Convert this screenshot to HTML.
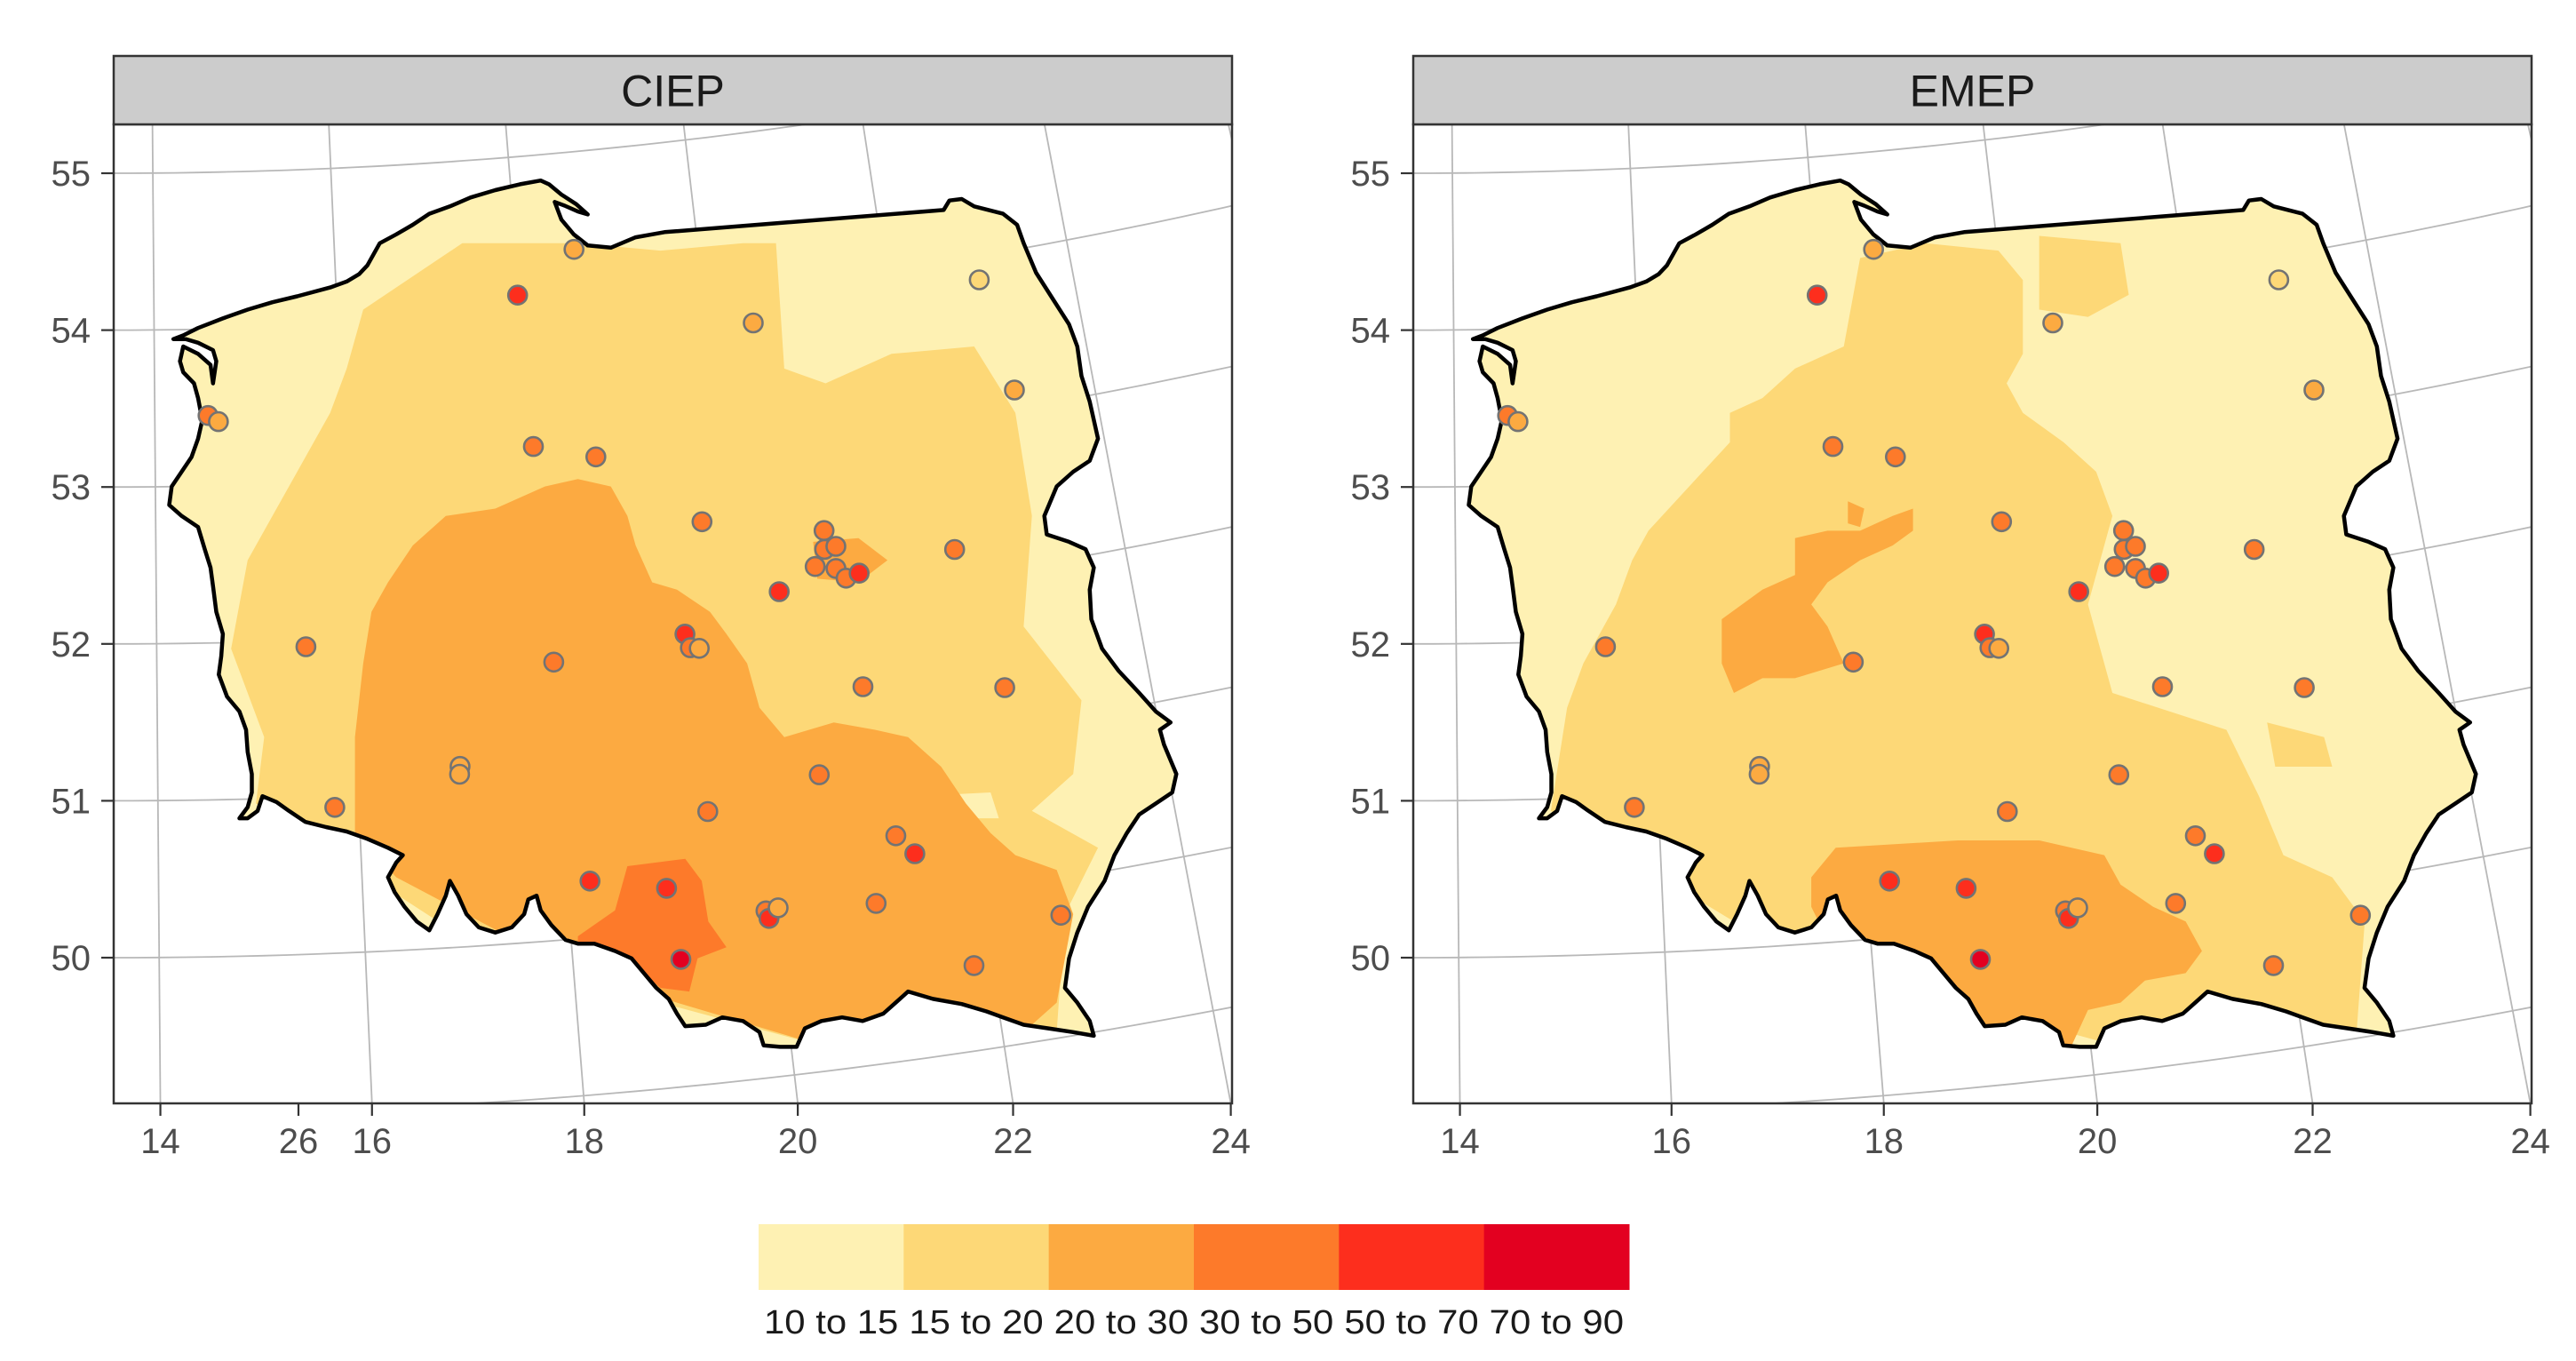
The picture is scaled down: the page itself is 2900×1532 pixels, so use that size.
<!DOCTYPE html>
<html><head><meta charset="utf-8"><title>CIEP vs EMEP</title>
<style>
html,body{margin:0;padding:0;background:#fff;}
svg{display:block;font-family:"Liberation Sans",Arial,sans-serif;}
</style></head>
<body>
<svg id="chart" width="2900" height="1532" viewBox="0 0 2900 1532" xmlns="http://www.w3.org/2000/svg"></svg>
<script>
// ---------- DATA ----------
const panelNames = ["CIEP", "EMEP"];
const stationLon = [18.64,17.98,20.50,22.99,23.16,14.57,14.68,18.02,18.67,19.71,20.96,20.94,21.06,20.82,21.03,21.12,21.26,20.42,22.27,15.53,19.41,19.45,19.54,18.05,21.14,22.55,17.03,17.02,20.59,15.76,19.45,21.26,21.42,18.23,18.97,19.91,19.93,20.03,20.98,22.73,21.83,19.04];
const stationLat = [54.38,54.12,53.79,53.85,53.12,53.45,53.41,53.15,53.05,52.57,52.42,52.30,52.31,52.20,52.17,52.10,52.12,52.07,52.18,51.96,51.87,51.78,51.77,51.77,51.40,51.26,51.15,51.10,50.88,50.93,50.73,50.43,50.30,50.36,50.27,50.06,50.01,50.07,50.02,49.77,49.54,49.81];
const stationValue = [25,60,25,18,26,35,26,38,36,38,36,38,37,36,38,35,55,58,36,36,58,35,27,36,36,36,26,25,36,36,36,38,58,60,58,36,58,26,36,36,36,80];
const classBreaks = [10,15,20,30,50,70,90];
const classLabels = ["10 to 15","15 to 20","20 to 30","30 to 50","50 to 70","70 to 90"];
const classColors = ["#FEF1B3","#FDD877","#FCAA41","#FD7A2A","#FD2E1D","#E30020"];
const latTicks = [50,51,52,53,54,55];
const lonTicks = [14,16,18,20,22,24];

// ---------- LAYOUT ----------
const NS = "http://www.w3.org/2000/svg";
const svg = document.getElementById("chart");
const panelX = [128, 1591];
const plotTop = 140, plotBottom = 1242, plotW = 1259, stripTop = 63;
const plotH = plotBottom - plotTop;

const AX = 127, AY = -5370, L0 = 13.55, KANG = 0.018, R55 = 5565, RPD = 176.6;
function proj(lon, lat) {
  const th = (lon - L0) * KANG, r = R55 + (55 - lat) * RPD;
  return [AX + r * Math.sin(th) - 128, AY + r * Math.cos(th) - plotTop];
}
function fromZ1(p){ return [p[0]/1.076 - 128, (p[1]-76)/1.205 + 63 - plotTop]; }
function fromZ7(p){ return [(p[0]-131)/1.0913, (p[1]-76)/1.205 + 63 - plotTop]; }

function el(tag, attrs, parent){
  const e = document.createElementNS(NS, tag);
  for (const k in attrs) e.setAttribute(k, attrs[k]);
  (parent || svg).appendChild(e);
  return e;
}
function classOf(v){ for (let i=0;i<6;i++) if (v < classBreaks[i+1]) return i; return 5; }
function ptsStr(arr){ return arr.map(p=>p[0].toFixed(1)+","+p[1].toFixed(1)).join(" "); }

const outlineTrace = [[210,460],[222,455],[240,445],[270,432],[300,420],[330,410],[360,402],[400,390],[420,382],[435,372],[445,360],[460,330],[480,318],[500,305],[520,290],[545,280],[570,268],[600,258],[630,250],[655,245],[665,250],[680,264],[698,277],[712,291],[700,287],[684,279],[672,274],[680,298],[695,318],[712,333],[740,336],[770,322],[805,315],[1143,285],[1150,272],[1165,270],[1180,280],[1215,290],[1232,305],[1240,330],[1255,370],[1275,405],[1295,440],[1305,470],[1310,510],[1320,545],[1330,595],[1320,625],[1300,640],[1280,660],[1265,700],[1268,725],[1295,735],[1315,745],[1325,770],[1320,800],[1322,840],[1335,880],[1355,910],[1380,940],[1400,965],[1418,980],[1405,990],[1410,1010],[1425,1050],[1420,1075],[1400,1090],[1380,1105],[1365,1130],[1350,1160],[1338,1195],[1318,1230],[1305,1265],[1295,1300],[1290,1340],[1305,1360],[1320,1385],[1325,1405],[1300,1400],[1270,1395],[1240,1390],[1215,1380],[1195,1372],[1165,1362],[1130,1355],[1100,1345],[1085,1360],[1070,1375],[1045,1385],[1020,1380],[995,1385],[975,1395],[965,1420],[945,1420],[925,1418],[920,1400],[900,1385],[875,1380],[855,1390],[830,1392],[820,1375],[810,1355],[795,1340],[780,1320],[765,1300],[745,1290],[720,1280],[700,1280],[685,1275],[668,1255],[655,1235],[650,1215],[640,1220],[635,1240],[620,1258],[600,1265],[580,1258],[565,1240],[555,1215],[545,1195],[540,1215],[530,1240],[520,1262],[505,1250],[490,1230],[478,1210],[470,1190],[480,1170],[488,1160],[470,1150],[445,1138],[420,1128],[395,1122],[370,1115],[350,1100],[335,1088],[318,1080],[312,1100],[300,1110],[290,1110],[300,1095],[305,1075],[305,1050],[300,1020],[298,990],[290,965],[275,945],[265,915],[268,890],[270,860],[262,830],[258,795],[255,770],[248,745],[240,715],[220,700],[205,685],[208,660],[220,640],[232,620],[240,595],[245,570],[240,540],[235,520],[222,505],[218,490],[222,470],[240,480],[255,495],[258,520],[262,490],[258,475],[240,465],[225,460]];

const ciepZones = [
 {c:1, frame:1, pts:[[440,420],[560,330],[700,330],[800,340],[900,330],[940,330],[950,500],[1000,520],[1080,480],[1180,470],[1230,560],[1250,700],[1240,850],[1310,950],[1300,1050],[1250,1100],[1330,1150],[1290,1240],[1280,1400],[1000,1420],[600,1300],[310,1090],[320,1000],[280,880],[300,760],[330,700],[360,640],[400,560],[420,500]]},
 {c:0, frame:1, pts:[[1110,1080],[1200,1075],[1210,1110],[1120,1110]]},
 {c:2, frame:1, pts:[[430,1130],[430,1000],[440,900],[450,830],[470,790],[500,740],[540,700],[600,690],[660,660],[700,650],[740,660],[760,700],[770,740],[790,790],[820,800],[860,830],[880,860],[905,900],[920,960],[950,1000],[1010,980],[1060,990],[1100,1000],[1140,1040],[1170,1090],[1200,1130],[1230,1160],[1280,1180],[1300,1240],[1290,1300],[1280,1360],[1240,1400],[1000,1420],[700,1320],[480,1190]]},
 {c:2, frame:1, pts:[[985,735],[1040,730],[1075,760],[1040,790],[990,785]]},
 {c:3, frame:1, pts:[[760,1175],[830,1165],[850,1195],[858,1250],[880,1285],[845,1300],[835,1345],[800,1340],[760,1300],[700,1285],[700,1270],[745,1235]]}
];
const emepZones = [
 {c:1, frame:7, pts:[[420,720],[470,660],[520,600],[520,560],[560,540],[600,500],[660,470],[680,350],[760,330],[850,340],[880,380],[880,480],[860,520],[880,560],[930,600],[970,640],[990,700],[960,820],[990,940],[1130,990],[1170,1080],[1200,1160],[1260,1190],[1300,1250],[1290,1400],[1000,1420],[600,1300],[300,1100],[320,960],[340,900],[380,820],[400,760]]},
 {c:1, frame:7, pts:[[900,320],[1000,330],[1010,400],[960,430],[900,420]]},
 {c:1, frame:7, pts:[[1180,980],[1250,1000],[1260,1040],[1190,1040]]},
 {c:2, frame:7, pts:[[510,840],[560,800],[600,780],[600,730],[640,720],[680,720],[720,700],[745,690],[745,720],[720,740],[680,760],[640,790],[620,820],[640,850],[660,900],[600,920],[560,920],[525,940],[510,900]]},
 {c:2, frame:7, pts:[[665,680],[685,690],[680,715],[665,710]]},
 {c:2, frame:7, pts:[[620,1190],[650,1150],[800,1140],[900,1140],[980,1160],[1000,1200],[1040,1230],[1080,1250],[1100,1290],[1080,1320],[1030,1330],[1000,1360],[960,1370],[935,1430],[880,1420],[820,1400],[700,1310],[640,1275],[620,1230]]}
];
const panelZones = [ciepZones, emepZones];

// ---------- DRAW ----------
const defs = el("defs", {});
const outlinePts = outlineTrace.map(fromZ1);
const outlineStr = ptsStr(outlinePts);

panelNames.forEach((name, pi) => {
  const px = panelX[pi];
  const g = el("g", {transform:`translate(${px},${plotTop})`});
  
  

  const cpA = el("clipPath", {id:"plotclip"+pi}, defs);
  el("rect", {x:0,y:0,width:plotW,height:plotH}, cpA);
  const cpP = el("clipPath", {id:"polclip"+pi}, defs);
  el("polygon", {points:outlineStr}, cpP);

  el("rect", {x:0,y:0,width:plotW,height:plotH,fill:"#fff"}, g);

  const grid = el("g", {"clip-path":`url(#plotclip${pi})`, stroke:"#b8b8b8", "stroke-width":"1.8", fill:"none"}, g);
  
  
  for (let lat = 48; lat <= 56; lat++) {
    const pts = [];
    for (let lon = 10; lon <= 28; lon += 0.25) pts.push(proj(lon, lat));
    const pl = el("polyline", {points: ptsStr(pts)}, grid);
    
    
  }
  for (let lon = 12; lon <= 26; lon += 2) {
    const pts = [proj(lon, 47), proj(lon, 57)];
    const ml = el("polyline", {points: ptsStr(pts)}, grid);
    
    
  }

  const mapG = el("g", {"clip-path":`url(#polclip${pi})`}, g);
  
  
  el("polygon", {points:outlineStr, fill:classColors[0]}, mapG);
  panelZones[pi].forEach(z => {
    const conv = z.frame === 1 ? fromZ1 : fromZ7;
    const zp = el("polygon", {points: ptsStr(z.pts.map(conv)), fill: classColors[z.c]}, mapG);
    
    
  });

  const ol = el("polygon", {points:outlineStr, fill:"none", stroke:"#000", "stroke-width":"4.5", "stroke-linejoin":"round"}, g);
  
  

  const st = el("g", {}, g);
  
  
  for (let i = 0; i < stationLon.length; i++) {
    const p = proj(stationLon[i], stationLat[i]);
    const c = el("circle", {cx:p[0].toFixed(1), cy:p[1].toFixed(1), r:10.5, fill:classColors[classOf(stationValue[i])], stroke:"#737373", "stroke-width":"2.6"}, st);
    
    
  }

  const border = el("rect", {x:0,y:0,width:plotW,height:plotH,fill:"none",stroke:"#333","stroke-width":"2.5"}, g);
  
  

  const strip = el("rect", {x:px, y:stripTop, width:plotW, height:plotTop-stripTop, fill:"#cccccc", stroke:"#333", "stroke-width":"2.5"});
  
  
  const st_t = el("text", {x:px+plotW/2, y:(stripTop+plotTop)/2+18, "text-anchor":"middle", "font-size":"50", fill:"#1a1a1a"});
  st_t.textContent = name;
  
  

  latTicks.forEach(lat => {
    const th = Math.asin((128 - AX) / (R55 + (55 - lat) * RPD));
    const y = AY + (R55 + (55 - lat) * RPD) * Math.cos(th);
    const tk = el("line", {x1:px-14, x2:px, y1:y, y2:y, stroke:"#333", "stroke-width":"2.2"});
    
    
    const t = el("text", {x:px-26, y:y+14, "text-anchor":"end", "font-size":"40", fill:"#4d4d4d"});
    t.textContent = lat;
    
    
  });
  lonTicks.forEach(lon => {
    const th = (lon - L0) * KANG;
    const x = AX + (plotBottom - AY) * Math.tan(th) - 128 + px;
    const tk = el("line", {x1:x, x2:x, y1:plotBottom, y2:plotBottom+14, stroke:"#333", "stroke-width":"2.2"});
    
    
    const t = el("text", {x:x, y:plotBottom+56, "text-anchor":"middle", "font-size":"40", fill:"#4d4d4d"});
    t.textContent = lon;
    
    
  });
  if (pi === 0) {
    const x = 336;
    const tk = el("line", {x1:x, x2:x, y1:plotBottom, y2:plotBottom+14, stroke:"#333", "stroke-width":"2.2"});
    
    
    const t = el("text", {x:x, y:plotBottom+56, "text-anchor":"middle", "font-size":"40", fill:"#4d4d4d"});
    t.textContent = "26";
    
    
  }
});

const lg = el("g", {});


const legX = 854, legW = 980, legY = 1378, legH = 74;
const keyW = legW / classLabels.length;
classLabels.forEach((lab, i) => {
  const r = el("rect", {x:legX + i*keyW, y:legY, width:keyW+0.5, height:legH, fill:classColors[i]}, lg);
  
  
  const t = el("text", {x:legX + i*keyW + keyW/2, y:1501, "text-anchor":"middle", "font-size":"38", fill:"#1a1a1a", textLength:keyW-12, lengthAdjust:"spacingAndGlyphs"}, lg);
  t.textContent = lab;
  
  
});
</script>
</body></html>
